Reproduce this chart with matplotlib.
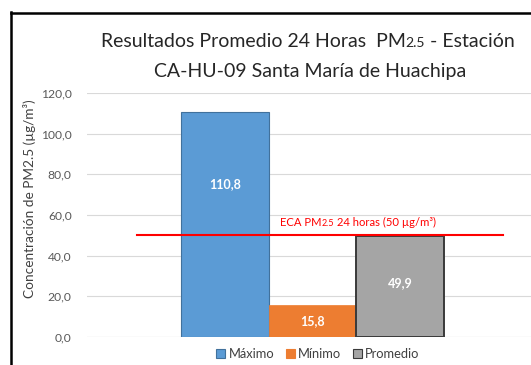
import matplotlib
matplotlib.use("Agg")
import matplotlib.pyplot as plt
from matplotlib.lines import Line2D
from matplotlib.patches import Patch

# --- data ---
series = ["Máximo", "Mínimo", "Promedio"]
values = [110.8, 15.8, 49.9]
value_labels = ["110,8", "15,8", "49,9"]
eca_limit = 50
eca_label = [("ECA PM", 1.0), ("2.5", 0.8), (" 24 horas (50 µg/m³)", 1.0)]
yticks = [0, 20, 40, 60, 80, 100, 120]
ytick_labels = ["0,0", "20,0", "40,0", "60,0", "80,0", "100,0", "120,0"]
title_line1 = [("Resultados Promedio 24 Horas  PM", 1.0), ("2.5", 0.72), (" - Estación", 1.0)]
title_line2 = [("CA-HU-09 Santa María de Huachipa", 1.0)]
ylabel = "Concentración de PM2.5 (µg/m³)"

# --- style ---
FONT = "Lato"
plt.rcParams["font.family"] = [FONT, "DejaVu Sans"]
face_colors = ["#5B9BD5", "#ED7D31", "#A5A5A5"]
edge_colors = ["#41719C", "#ED7D31", "#3A3A3A"]
edge_widths = [0.8, 0.5, 1.4]
label_frac = [0.68, 0.5, 0.53]

W, H = 531, 365
fig = plt.figure(figsize=(W / 100, H / 100), dpi=100)
ax = fig.add_axes([87 / W, (H - 337) / H, (537 - 87) / W, (337 - 93) / H])

x = list(range(len(values)))
ax.bar(x, values, width=1.0, color=face_colors, edgecolor=edge_colors,
       linewidth=edge_widths, zorder=3)
ax.set_xlim(-1.58, 3.565)
ax.set_ylim(0, 120)
ax.set_yticks(yticks)
ax.set_yticklabels(ytick_labels, color="#595959", fontsize=8.7)
ax.tick_params(axis="y", length=0, pad=11)
ax.set_xticks([])
ax.grid(axis="y", color="#D9D9D9", linewidth=0.8, zorder=0)
for s in ax.spines.values():
    s.set_visible(False)
ax.axhline(0, color="#D9D9D9", linewidth=0.8, zorder=1)

for xi, v, lab, fr in zip(x, values, value_labels, label_frac):
    ax.text(xi, v * fr, lab, ha="center", va="center", color="white",
            fontsize=9, fontweight="bold", zorder=5)

# ECA reference line
ax.plot([-1.005, 3.18], [eca_limit, eca_limit], color="#FF0000", linewidth=1.5, zorder=4)

fig.canvas.draw()
renderer = fig.canvas.get_renderer()


def rich_line(pieces, cx, cy, size, color, weight="normal"):
    """Draw consecutive text pieces (text, size factor) centered at figure pixel (cx, cy)."""
    widths = []
    for txt, f in pieces:
        t = fig.text(0, 0, txt, fontsize=size * f, fontweight=weight)
        widths.append(t.get_window_extent(renderer).width)
        t.remove()
    total = sum(widths)
    pos = -total / 2
    for (txt, f), w in zip(pieces, widths):
        fig.text((cx + pos) / W, 1 - cy / H, txt, fontsize=size * f, color=color,
                 ha="left", va="baseline", fontweight=weight)
        pos += w


rich_line(title_line1, 308, 47, 14.0, "#262626")
rich_line(title_line2, 310, 77, 14.0, "#262626")
rich_line(eca_label, 358, 226, 8.1, "#FF0000")

fig.text(30 / W, 1 - 199 / H, ylabel, rotation=90, ha="center", va="center",
         fontsize=9.8, color="#404040")

handles = [Patch(facecolor=c, edgecolor=e, linewidth=0.8) for c, e in zip(face_colors, edge_colors)]
fig.legend(handles, series, loc="center", bbox_to_anchor=(318 / W, 1 - 354 / H),
           ncol=3, frameon=False, fontsize=9.3, handlelength=0.7, handleheight=0.7,
           handletextpad=0.25, columnspacing=0.9, labelcolor="#404040")

# chart frame (left and top edges)
fig.add_artist(Line2D([10.5 / W, 10.5 / W], [0, 1 - 12 / H], color="black", linewidth=1.8))
fig.add_artist(Line2D([10.5 / W, 1], [1 - 12.5 / H, 1 - 12.5 / H], color="black", linewidth=1.8))

fig.savefig("out.png", dpi=100)
